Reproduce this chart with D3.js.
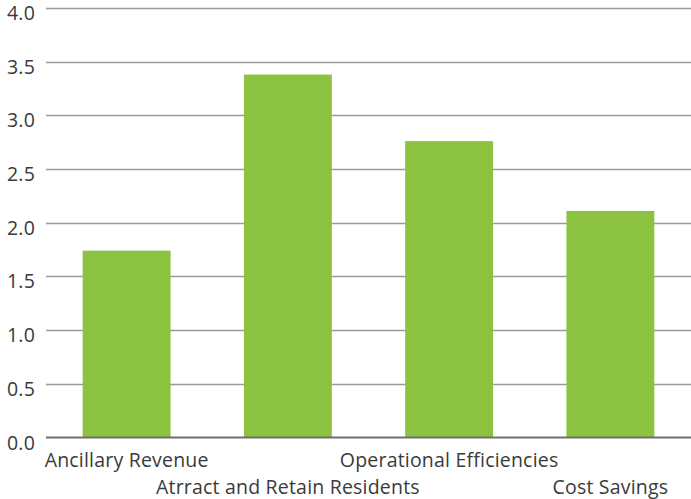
<!DOCTYPE html>
<html>
<head>
<meta charset="utf-8">
<script src="https://cdn.jsdelivr.net/npm/d3@7"></script>
<style>
  html, body { margin: 0; padding: 0; background: #fff; }
  svg { display: block; }
  text { font-family: "Open Sans", sans-serif; fill: #3a3a3a; }
</style>
</head>
<body>
<svg id="chart" width="691" height="499"></svg>
<script>
// Categories and their scores
const categories = ["Ancillary Revenue", "Atrract and Retain Residents", "Operational Efficiencies", "Cost Savings"];
const values = [1.74, 3.38, 2.76, 2.11];
const yTicks = [0, 0.5, 1, 1.5, 2, 2.5, 3, 3.5, 4];

const svg = d3.select("#chart");
const plotLeft = 46, plotRight = 691, plotTop = 8, plotBottom = 437.5;

const x = d3.scaleBand().domain(categories).range([plotLeft, plotRight]).paddingInner(0.455).paddingOuter(0.2275);
const y = d3.scaleLinear().domain([0, 4]).range([plotBottom, plotTop]);

// Horizontal grid lines
svg.append("g").selectAll("line").data(yTicks.slice(1)).join("line")
  .attr("x1", plotLeft).attr("x2", plotRight)
  .attr("y1", d => Math.round(y(d)) + 0.5).attr("y2", d => Math.round(y(d)) + 0.5)
  .attr("stroke", "#9a9a9a").attr("stroke-width", 1.5);

// Y tick labels, sitting slightly below their grid lines
svg.append("g").selectAll("text").data(yTicks).join("text")
  .attr("x", 35).attr("y", d => y(d) + 12)
  .attr("text-anchor", "end").attr("font-size", 19.5).attr("letter-spacing", 0.2)
  .text(d => d3.format(".1f")(d));

// Bars
svg.append("g").selectAll("rect").data(values).join("rect")
  .attr("x", (d, i) => x(categories[i]))
  .attr("width", x.bandwidth())
  .attr("y", d => y(d))
  .attr("height", d => y(0) - y(d))
  .attr("fill", "#8bc340");

// Baseline
svg.append("line").attr("x1", plotLeft).attr("x2", plotRight)
  .attr("y1", y(0)).attr("y2", y(0))
  .attr("stroke", "#6e6e6e").attr("stroke-width", 2);

// Category labels, alternating between two rows
svg.append("g").selectAll("text").data(categories).join("text")
  .attr("x", d => x(d) + x.bandwidth() / 2)
  .attr("y", (d, i) => i % 2 === 0 ? 467 : 494)
  .attr("text-anchor", "middle").attr("font-size", 19.5).attr("letter-spacing", 0.2)
  .text(d => d);
</script>
</body>
</html>
